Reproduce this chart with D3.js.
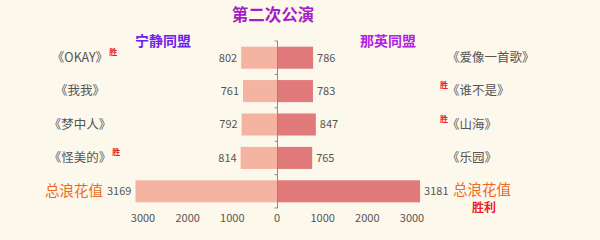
<!DOCTYPE html>
<html><head><meta charset="utf-8">
<script src="https://cdn.jsdelivr.net/npm/d3@7"></script>
<style>
html,body{margin:0;padding:0;background:#fdf8ec;}
svg{display:block;font-family:"Noto Sans CJK SC","Noto Sans",sans-serif;}
</style></head>
<body><svg id="c" width="600" height="240"></svg>
<script>
const title = "第二次公演";
const leftTeam = "宁静同盟";
const rightTeam = "那英同盟";
const leftSongs = ["《OKAY》","《我我》","《梦中人》","《怪美的》","总浪花值"];
const rightSongs = ["《爱像一首歌》","《谁不是》","《山海》","《乐园》","总浪花值"];
const leftValues = [802, 761, 792, 814, 3169];
const rightValues = [786, 783, 847, 765, 3181];
const leftWins = [true, false, false, true, false];
const rightWins = [false, true, true, false, false];
const tickValues = [0, 1000, 2000, 3000];
const winMark = "胜";
const totalWin = "胜利";

const svg = d3.select("#c");
const cx = 277.5;
const rows = d3.range(leftSongs.length);
const y = d3.scaleBand().domain(rows).range([41, 208]).paddingInner(0.34).paddingOuter(0.17);
const xL = d3.scaleLinear().domain([0, 3000]).range([cx - 0.5, cx - 0.5 - 134]);
const xR = d3.scaleLinear().domain([0, 3000]).range([cx + 0.5, cx + 0.5 + 134]);

// bars
svg.append("g").selectAll("rect").data(leftValues).join("rect")
  .attr("x", d => xL(d)).attr("width", d => xL(0) - xL(d))
  .attr("y", (d,i) => y(i)).attr("height", y.bandwidth())
  .attr("fill", "#f5b3a2");
svg.append("g").selectAll("rect").data(rightValues).join("rect")
  .attr("x", xR(0)).attr("width", d => xR(d) - xR(0))
  .attr("y", (d,i) => y(i)).attr("height", y.bandwidth())
  .attr("fill", "#e07a7b");

// center axis
const ax = svg.append("g").attr("stroke", "#8a8a8a").attr("fill", "none");
ax.append("line").attr("x1", cx).attr("x2", cx).attr("y1", 41).attr("y2", 208);
const bounds = rows.map(i => y(i) - y.step()*y.paddingInner()/2).concat([208]);
ax.selectAll("line.t").data(bounds).join("line").attr("class","t")
  .attr("x1", cx - 3).attr("x2", cx).attr("y1", d => d).attr("y2", d => d);

// value labels
svg.append("g").selectAll("text").data(leftValues).join("text")
  .attr("x", d => xL(d) - 4).attr("y", (d,i) => y(i) + y.bandwidth()/2)
  .attr("dy", "0.35em").attr("text-anchor", "end")
  .attr("font-size", 11).attr("fill", "#555").text(d => d);
svg.append("g").selectAll("text").data(rightValues).join("text")
  .attr("x", d => xR(d) + 4).attr("y", (d,i) => y(i) + y.bandwidth()/2)
  .attr("dy", "0.35em").attr("text-anchor", "start")
  .attr("font-size", 11).attr("fill", "#555").text(d => d);

// bottom tick labels
const bt = svg.append("g").attr("font-size", 11).attr("fill", "#555").attr("text-anchor", "middle");
bt.selectAll("text.l").data(tickValues).join("text").attr("class","l")
  .attr("x", d => xL(d)).attr("y", 222).text(d => d);
bt.selectAll("text.r").data(tickValues.filter(d => d > 0)).join("text").attr("class","r")
  .attr("x", d => xR(d)).attr("y", 222).text(d => d);

// song labels
const last = leftSongs.length - 1;
svg.append("g").selectAll("text").data(leftSongs).join("text")
  .attr("x", (d,i) => i === last ? 74 : 80)
  .attr("y", (d,i) => i === last ? 191 : y(i) + y.bandwidth()/2).attr("dy", "0.35em")
  .attr("text-anchor", "middle")
  .attr("font-size", (d,i) => i === last ? 14.5 : 12.5)
  .attr("fill", (d,i) => i === last ? "#ec6a22" : "#555")
  .text(d => d);
svg.append("g").selectAll("text").data(rightSongs).join("text")
  .attr("x", (d,i) => i === last ? 453 : 447)
  .attr("y", (d,i) => i === last ? 189.5 : y(i) + y.bandwidth()/2).attr("dy", "0.35em")
  .attr("text-anchor", "start")
  .attr("font-size", (d,i) => i === last ? 14.5 : 12.5)
  .attr("fill", (d,i) => i === last ? "#ec6a22" : "#555")
  .text(d => d);

// win marks
const lw = svg.append("g");
leftSongs.forEach((s,i) => {
  if (!leftWins[i]) return;
  const tmp = lw.append("text").attr("font-size", 12.5).text(s);
  const w = tmp.node().getComputedTextLength(); tmp.remove();
  lw.append("text").attr("x", 80 + w/2 + 1).attr("y", y(i) + y.bandwidth()/2 - 3)
    .attr("font-size", 8).attr("font-weight", "bold").attr("fill", "#e8202a").text(winMark);
});
rightSongs.forEach((s,i) => {
  if (!rightWins[i]) return;
  svg.append("text").attr("x", 440).attr("y", y(i) + y.bandwidth()/2 - 3)
    .attr("font-size", 8).attr("font-weight", "bold").attr("fill", "#e8202a").text(winMark);
});
svg.append("text").attr("x", 484).attr("y", 212)
  .attr("text-anchor", "middle").attr("font-size", 12).attr("font-weight", "bold")
  .attr("fill", "#e8202a").text(totalWin);

// titles
svg.append("text").attr("x", 273).attr("y", 21).attr("text-anchor", "middle")
  .attr("font-size", 16.5).attr("font-weight", "bold").attr("fill", "#a21fc4").text(title);
svg.append("text").attr("x", 163).attr("y", 46).attr("text-anchor", "middle")
  .attr("font-size", 14).attr("font-weight", "bold").attr("fill", "#6b22ee").text(leftTeam);
svg.append("text").attr("x", 388).attr("y", 46).attr("text-anchor", "middle")
  .attr("font-size", 14).attr("font-weight", "bold").attr("fill", "#b322e6").text(rightTeam);
</script></body></html>
